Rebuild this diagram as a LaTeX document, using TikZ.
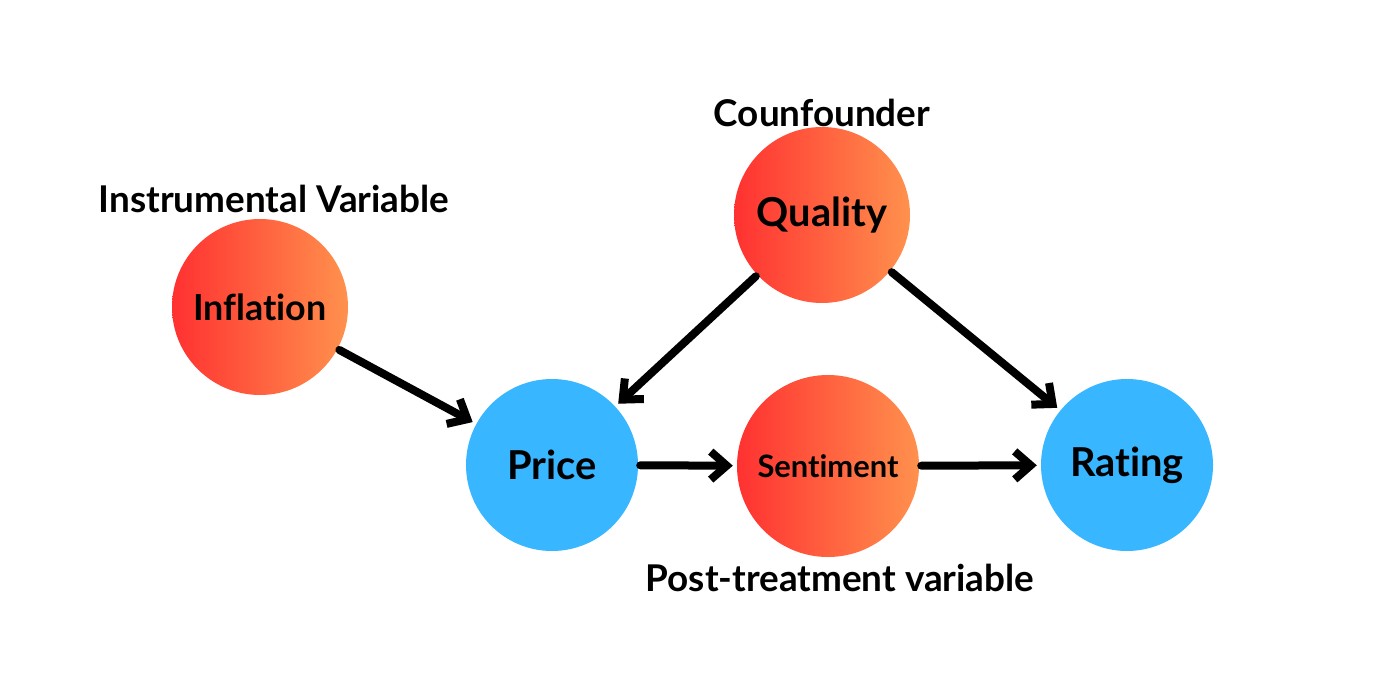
\documentclass[tikz,border=0pt]{standalone}
\usepackage{fontspec}
\setmainfont{Lato}[Ligatures=NoCommon]
\usetikzlibrary{arrows.meta}
\definecolor{hotL}{RGB}{255,49,49}
\definecolor{hotR}{RGB}{255,145,77}
\definecolor{cool}{RGB}{56,182,255}
\begin{document}
\begin{tikzpicture}[x=1bp,y=-1bp,
	hot/.style={circle, minimum size=176bp, inner sep=0pt, left color=hotL, right color=hotR, font=\fontsize{40}{46}\selectfont\bfseries},
	blue/.style={circle, minimum size=172bp, inner sep=0pt, fill=cool, font=\fontsize{40}{46}\selectfont\bfseries},
	tag/.style={font=\fontsize{37}{42}\selectfont\bfseries},
	arr/.style={line width=8bp, line cap=round, line join=round, -{Straight Barb[length=16bp,width=28bp]}, shorten <=2bp, shorten >=4bp}]
	\useasboundingbox (0,0) rectangle (1398,684);
	\node (infl) at ( 260, 307)	[hot, font=\fontsize{36}{42}\selectfont\bfseries]	{Inflation};
	\node (qual) at ( 822, 215)	[hot]	{Quality};
	\node (sent) at ( 828, 466)	[hot, minimum size=182bp, font=\fontsize{31}{36}\selectfont\bfseries]	{Sentiment};
	\node (price) at ( 552, 465)	[blue]	{Price};
	\node (rate) at (1127, 465)	[blue]	{Rating};
	\node (ivtag) at ( 274, 199)	[tag]	{Instrumental Variable};
	\node (cftag) at ( 822, 113)	[tag]	{Counfounder};
	\node (pttag) at ( 840, 578)	[tag]	{Post-treatment variable};
	\draw[arr] (infl) -- (price);
	\draw[arr] (qual) -- (price);
	\draw[arr] (qual) -- (rate);
	\draw[arr] (price) -- (sent);
	\draw[arr] (sent) -- (rate);
\end{tikzpicture}
\end{document}
